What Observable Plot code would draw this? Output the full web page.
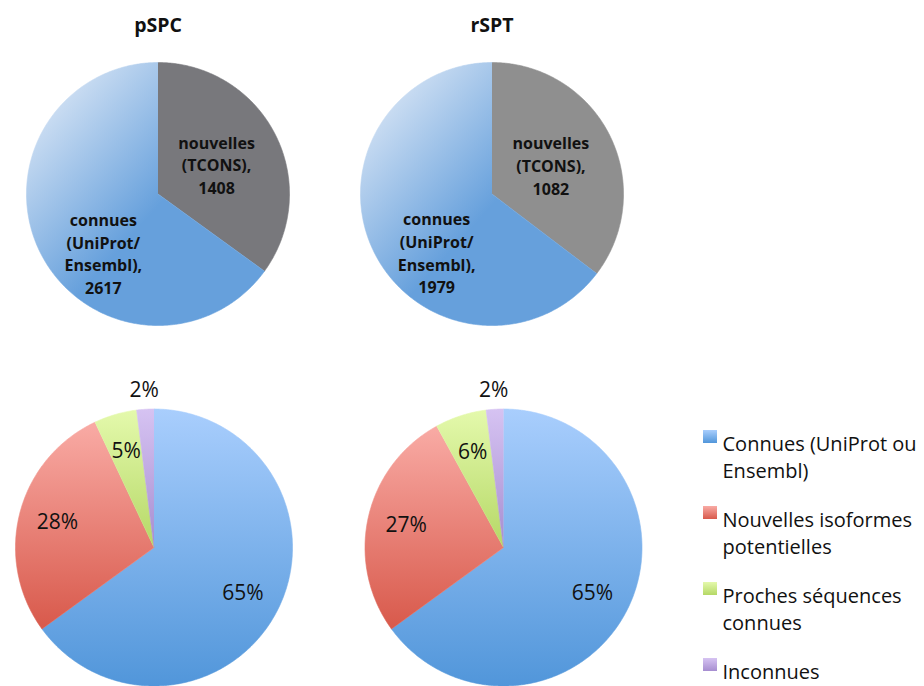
<!DOCTYPE html>
<html><head><meta charset="utf-8">
<script src="https://cdn.jsdelivr.net/npm/d3@7"></script>
<script src="https://cdn.jsdelivr.net/npm/@observablehq/plot@0.6"></script>
<style>body{margin:0;background:#fff}#chart{width:924px;height:686px}</style>
</head><body><div id="chart"></div>
<script>
// ---------- data ----------
const topTitles = ["pSPC", "rSPT"];
const topCategories = ["nouvelles (TCONS)", "connues (UniProt/Ensembl)"];
const topLabelLines = [["nouvelles", "(TCONS),"], ["connues", "(UniProt/", "Ensembl),"]];
const pSPCCounts = [1408, 2617];
const rSPTCounts = [1082, 1979];

const bottomCategories = ["Connues (UniProt ou Ensembl)", "Nouvelles isoformes potentielles", "Proches séquences connues", "Inconnues"];
const legendLabels = ["Connues (UniProt ou\nEnsembl)", "Nouvelles isoformes\npotentielles", "Proches séquences\nconnues", "Inconnues"];
const pSPCPercents = [65, 28, 5, 2];
const rSPTPercents = [65, 27, 6, 2];

// ---------- layout ----------
const W = 924, H = 686;
const FONT = "'Open Sans', 'DejaVu Sans', sans-serif";
const topPies = [{cx: 157.5, cy: 193.5, r: 131.5}, {cx: 491.5, cy: 193.5, r: 131.5}];
const bottomPies = [{cx: 153.5, cy: 547, r: 138.5}, {cx: 503, cy: 547, r: 138.5}];
const topFills = [["gGrey1", "gTopBlue"], ["gGrey2", "gTopBlue"]];
const bottomFills = ["gBlue", "gRed", "gGreen", "gPurple"];
const topLabelPlacement = [{dAngle: 0, k: 0.5}, {dAngle: -20 * Math.PI / 180, k: 0.61}];
const legendX = 703, legendY0 = 430, legendStep = 76;

function slices(values, g) {
  const arcs = d3.pie().sort(null).value(d => d)(values);
  return arcs.map((a, i) => {
    const pts = [{x: g.cx, y: g.cy}];
    const n = Math.max(2, Math.ceil((a.endAngle - a.startAngle) / (Math.PI / 360)));
    for (let k = 0; k <= n; k++) {
      const t = a.startAngle + (a.endAngle - a.startAngle) * k / n;
      pts.push({x: g.cx + g.r * Math.sin(t), y: g.cy - g.r * Math.cos(t)});
    }
    return {i, value: a.value, pts, mid: (a.startAngle + a.endAngle) / 2};
  });
}
function circlePts(g) {
  return d3.range(0, 361, 2).map(d => {
    const t = d * Math.PI / 180;
    return {x: g.cx + g.r * Math.sin(t), y: g.cy - g.r * Math.cos(t)};
  });
}

const marks = [];
function addPie(values, g, fills) {
  marks.push(Plot.line(circlePts(g), {x: "x", y: "y", fill: "white", stroke: "none", ariaLabel: "shadow"}));
  const s = slices(values, g);
  s.forEach((sl, i) => {
    const f = `url(#${fills[i]})`;
    marks.push(Plot.line(sl.pts, {x: "x", y: "y", fill: f, stroke: f, strokeWidth: 0.6}));
  });
  return s;
}

// top pies
[pSPCCounts, rSPTCounts].forEach((vals, p) => {
  const g = topPies[p];
  const s = addPie(vals, g, topFills[p]);
  const labels = s.map((sl, i) => {
    const pl = topLabelPlacement[i];
    const a = sl.mid + pl.dAngle;
    return {
      x: g.cx + pl.k * g.r * Math.sin(a),
      y: g.cy - pl.k * g.r * Math.cos(a),
      text: [...topLabelLines[i], String(sl.value)].join("\n")
    };
  });
  marks.push(Plot.text(labels, {x: "x", y: "y", text: "text", fontWeight: "bold", fontSize: 16, lineHeight: 1.42, fill: "#111", fontFamily: FONT}));
});

// titles
marks.push(Plot.text(topTitles, {x: (d, i) => topPies[i].cx, y: () => 25.5, text: d => d, fontWeight: "bold", fontSize: 19.5, fill: "#111", fontFamily: FONT}));

// bottom pies
[pSPCPercents, rSPTPercents].forEach((vals, p) => {
  const g = bottomPies[p];
  const s = addPie(vals, g, bottomFills);
  const labels = s.map(sl => {
    const k = sl.value < 3 ? 1.14 : 0.72;
    return {x: g.cx + k * g.r * Math.sin(sl.mid), y: g.cy - k * g.r * Math.cos(sl.mid), text: sl.value + "%"};
  });
  marks.push(Plot.text(labels, {x: "x", y: "y", text: "text", fontSize: 21, fill: "#111", fontFamily: FONT}));
});

// legend
legendLabels.forEach((lab, i) => {
  const y0 = legendY0 + i * legendStep;
  marks.push(Plot.rect([lab], {x1: () => legendX, x2: () => legendX + 14, y1: () => y0, y2: () => y0 + 13, fill: `url(#${bottomFills[i]})`}));
});
marks.push(Plot.text(legendLabels, {x: () => legendX + 19, y: (d, i) => legendY0 + i * legendStep + 1.2, text: d => d, textAnchor: "start", lineAnchor: "top", fontSize: 20, lineHeight: 1.35, fill: "#111", fontFamily: FONT}));

const svg = Plot.plot({
  width: W, height: H, margin: 0,
  x: {domain: [0, W], range: [0, W], axis: null},
  y: {domain: [0, H], range: [0, H], axis: null},
  style: {fontFamily: FONT, background: "white"},
  marks
});

// gradients & shadow
const defs = d3.select(svg).insert("defs", ":first-child");
function lin(id, x2, y2, stops) {
  const lg = defs.append("linearGradient").attr("id", id).attr("x1", 0).attr("y1", 0).attr("x2", x2).attr("y2", y2);
  stops.forEach(([o, c]) => lg.append("stop").attr("offset", o).attr("stop-color", c));
}
lin("gTopBlue", 0.55, 0.55, [[0, "#e6eef9"], [0.2, "#d3e2f4"], [1, "#66a0dc"]]);
lin("gGrey1", 0, 1, [[0, "#78787c"], [1, "#78787c"]]);
lin("gGrey2", 0, 1, [[0, "#8f8f8f"], [1, "#8f8f8f"]]);
lin("gBlue", 0, 1, [[0, "#a9cefd"], [1, "#5196da"]]);
lin("gRed", 0, 1, [[0, "#f9aba5"], [1, "#d8594b"]]);
lin("gGreen", 0, 1, [[0, "#e4f9ac"], [1, "#b5d866"]]);
lin("gPurple", 0, 1, [[0, "#d6c3f2"], [1, "#a68dd0"]]);
const f = defs.append("filter").attr("id", "shadow").attr("x", "-10%").attr("y", "-10%").attr("width", "125%").attr("height", "125%");
f.append("feDropShadow").attr("dx", 2).attr("dy", 3).attr("stdDeviation", 3).attr("flood-color", "#000").attr("flood-opacity", 0.35);
d3.select(svg).selectAll('g[aria-label="shadow"]').attr("filter", "url(#shadow)");

document.getElementById("chart").appendChild(svg);
</script></body></html>
